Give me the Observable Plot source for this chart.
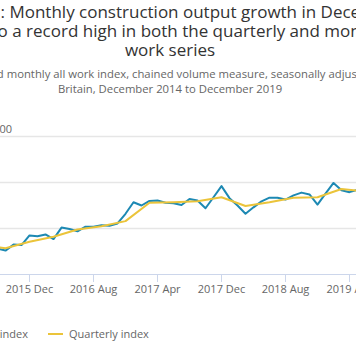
<!DOCTYPE html>
<html>
<head>
<meta charset="utf-8">
<script src="https://cdn.jsdelivr.net/npm/d3@7"></script>
<script src="https://cdn.jsdelivr.net/npm/@observablehq/plot@0.6"></script>
<style>
  body { margin:0; width:356px; height:364px; overflow:hidden; position:relative; background:#fff; font-family:"Open Sans", sans-serif; }
  .abs { position:absolute; white-space:nowrap; }
  #title { left:-110px; width:560px; top:2px; text-align:center; font-size:17px; line-height:19.2px; color:#333; }
  #title .l2 { position:relative; left:-4px; }
  #subtitle { left:-110px; width:560px; top:65.5px; text-align:center; font-size:11.3px; line-height:15.6px; color:#666; }
  #ytitle { right:344px; top:123px; font-size:11px; line-height:11px; color:#666; }
  #chart { left:-110px; top:100px; width:560px; height:200px; }
  #chart svg { max-width:none !important; }
  .leg { font-size:11px; line-height:11px; color:#666; display:flex; align-items:center; top:328px; }
  .sym { width:15px; height:2px; margin-right:6px; }
</style>
</head>
<body>
<div id="title" class="abs">Figure 1: Monthly construction output growth in December<br><span class="l2">2019 led to a record high in both the quarterly and monthly all</span><br>work series</div>
<div id="subtitle" class="abs">Quarterly and monthly all work index, chained volume measure, seasonally adjusted, Great<br>Britain, December 2014 to December 2019</div>
<div id="ytitle" class="abs">Index, 2016=100</div>
<div id="chart" class="abs"></div>
<div class="abs leg" style="right:328px;"><div class="sym" style="background:#1d89b3"></div><span>Monthly index</span></div>
<div class="abs leg" style="left:48px;"><div class="sym" style="background:#ebc43a"></div><span>Quarterly index</span></div>
<script>
// Month index 0 = Dec 2014 ... 60 = Dec 2019
const monthlyIndex = [
  95.0, 95.3, 95.9, 95.6, 96.2, 96.8, 96.5, 96.3, 95.6, 95.2, 96.5, 96.4,
  98.5, 98.3, 98.7, 97.7, 100.2, 99.9, 99.4, 100.4, 100.4, 100.7, 100.6, 101.1,
  103.2, 105.7, 105.0, 106.0, 106.1, 105.6, 105.5, 105.1, 106.4, 106.1, 104.4, 106.8,
  109.2, 106.6, 105.0, 103.2, 104.6, 105.9, 106.7, 106.7, 106.3, 107.2, 107.8, 107.4,
  105.2, 107.6, 109.9, 108.3, 107.9, 108.4, 107.7, 108.2, 108.6, 108.0, 107.9, 108.2,
  110.5
];
// Quarter-end months: Dec 2014, Mar 2015, ..., Dec 2019
const quarterlyIndex = [
  94.8, 95.6, 96.5, 95.7, 97.1, 98.2, 99.8, 100.5, 101.6, 105.6, 105.7,
  105.9, 106.8, 104.9, 105.7, 106.7, 106.8, 108.6, 108.0, 108.3, 108.9
];
const tickMonths = [4, 12, 20, 28, 36, 44, 52, 60];
const tickLabels = ["2015 Apr", "2015 Dec", "2016 Aug", "2017 Apr", "2017 Dec", "2018 Aug", "2019 Apr", "2019 Dec"];
const yTicks = [90, 100, 110, 120];

const monthly = monthlyIndex.map((v, i) => ({i, v}));
const quarterly = quarterlyIndex.map((v, k) => ({i: k * 3, v}));
const labelOf = new Map(tickMonths.map((m, k) => [m, tickLabels[k]]));

const chart = Plot.plot({
  width: 560,
  height: 200,
  marginLeft: 43,
  marginRight: 37,
  marginTop: 36,
  marginBottom: 26,
  style: {fontFamily: "'Open Sans', sans-serif", fontSize: "11px", overflow: "visible", background: "transparent", maxWidth: "none"},
  x: {type: "linear", domain: [0, 60]},
  y: {domain: [90, 120]},
  marks: [
    Plot.ruleY(yTicks.slice(1), {stroke: "#e6e6e6", strokeWidth: 1.5}),
    Plot.ruleY([yTicks[0]], {stroke: "#ccd6eb", strokeWidth: 1.2}),
    Plot.axisX({ticks: tickMonths, tickFormat: d => labelOf.get(d), tickSize: 8, tickPadding: 3, stroke: "#ccd6eb", fill: "#666", label: null}),
    Plot.axisY({ticks: yTicks, tickSize: 0, tickPadding: 6, fill: "#666", label: null}),
    Plot.line(monthly, {x: "i", y: "v", stroke: "#1d89b3", strokeWidth: 2}),
    Plot.line(quarterly, {x: "i", y: "v", stroke: "#ebc43a", strokeWidth: 2})
  ]
});
document.getElementById("chart").appendChild(chart);
</script>
</body>
</html>
